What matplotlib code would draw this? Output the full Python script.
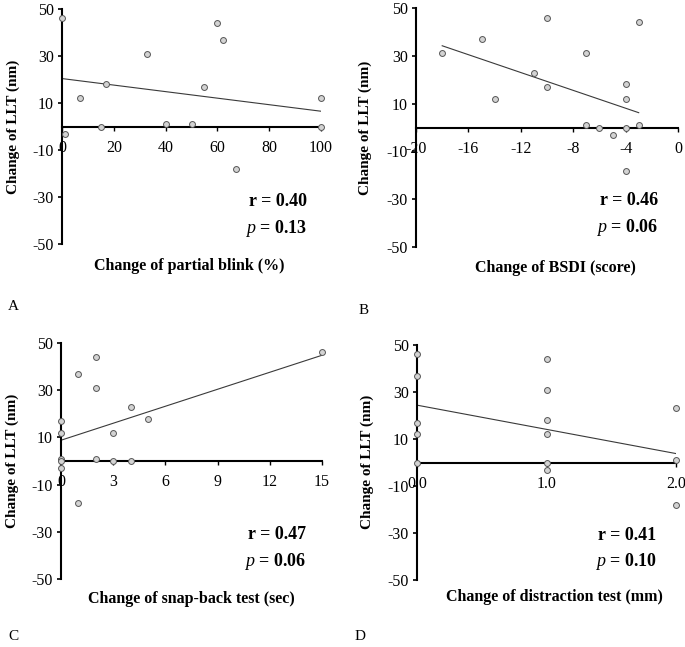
import matplotlib
matplotlib.use('Agg')
import matplotlib.pyplot as plt

plt.rcParams['font.family'] = ['Liberation Serif', 'DejaVu Serif']
plt.rcParams['axes.unicode_minus'] = False
plt.rcParams['mathtext.fontset'] = 'custom'
plt.rcParams['mathtext.it'] = 'Liberation Serif:italic'
plt.rcParams['mathtext.rm'] = 'Liberation Serif:bold'

# values
a_x = [0, 1, 7, 15, 17, 33, 40, 50, 55, 60, 62, 67, 100, 100]
a_y = [46, -3, 12, 0, 18, 31, 1, 1, 17, 44, 37, -18, 12, 0]
a_fit_x = [0, 100]
a_fit_y = [20.4, 6.5]

b_x = [-18, -15, -14, -11, -10, -10, -7, -7, -6, -5, -4, -4, -4, -4, -3, -3]
b_y = [31, 37, 12, 23, 46, 17, 31, 1, 0, -3, 18, 12, 0, -18, 44, 1]
b_fit_x = [-18, -3]
b_fit_y = [34.2, 6.2]

c_x = [0, 0, 0, 0, 0, 1, 1, 2, 2, 2, 3, 3, 4, 4, 5, 15]
c_y = [17, 12, 1, 0, -3, 37, -18, 44, 31, 1, 12, 0, 23, 0, 18, 46]
c_fit_x = [0, 15]
c_fit_y = [8.8, 44.8]

d_x = [0, 0, 0, 0, 0, 1, 1, 1, 1, 1, 1, 2, 2, 2]
d_y = [46, 37, 17, 12, 0, 44, 31, 18, 12, 0, -3, 23, 1, -18]
d_fit_x = [0, 2]
d_fit_y = [24.4, 3.8]

y_ticks = [-50, -30, -10, 10, 30, 50]

panels = [
    # data, fit, xlim, xticks, xlabel, r, p, letter
    (a_x, a_y, a_fit_x, a_fit_y, (0, 100), [0, 20, 40, 60, 80, 100],
     'Change of partial blink (%)', '0.40', '0.13', 'A'),
    (b_x, b_y, b_fit_x, b_fit_y, (-20, 0), [-20, -16, -12, -8, -4, 0],
     'Change of BSDI (score)', '0.46', '0.06', 'B'),
    (c_x, c_y, c_fit_x, c_fit_y, (0, 15), [0, 3, 6, 9, 12, 15],
     'Change of snap-back test (sec)', '0.47', '0.06', 'C'),
    (d_x, d_y, d_fit_x, d_fit_y, (0, 2), [0, 1, 2],
     'Change of distraction test (mm)', '0.41', '0.10', 'D'),
]

# axes boxes in pixels: left, top, right, bottom
boxes = [(62, 9, 321, 244), (416, 8, 678, 247), (61, 343, 322, 579), (417, 345, 676, 580)]
xlab_pos = [(189, 266), (555, 268), (191, 599), (554, 597)]
ylab_pos = [(13, 127), (365, 128), (12, 461), (367, 462)]
letter_pos = [(8, 307), (359, 311), (8, 637), (355, 637)]
rp_pos = [(0.946, 0.18, 0.065), (0.924, 0.196, 0.083), (0.939, 0.188, 0.073), (0.925, 0.191, 0.077)]

W, H = 685, 647
fig = plt.figure(figsize=(W / 100, H / 100), dpi=100)

for i, (xs, ys, fx, fy, xlim, xticks, xlabel, r, p, letter) in enumerate(panels):
    l, t, rr, b = boxes[i]
    ax = fig.add_axes([l / W, 1 - b / H, (rr - l) / W, (b - t) / H])
    ax.plot(fx, fy, color='#3a3a3a', lw=0.8, zorder=2)
    ax.scatter(xs, ys, s=18, facecolor='#d3d3d3', edgecolor='#555555', linewidth=0.7,
               zorder=3, clip_on=False)
    ax.set_xlim(*xlim)
    ax.set_ylim(-50, 50)
    ax.set_yticks(y_ticks)
    ax.set_xticks(xticks)
    if letter == 'D':
        ax.set_xticklabels(['%.1f' % v for v in xticks])
    ax.spines['top'].set_visible(False)
    ax.spines['right'].set_visible(False)
    ax.spines['bottom'].set_position(('data', 0))
    ax.spines['left'].set_linewidth(1.5)
    ax.spines['bottom'].set_linewidth(1.5)
    ax.tick_params(axis='y', direction='out', length=3, width=1.2, pad=3, labelsize=11.5)
    ax.tick_params(axis='x', direction='out', length=3, width=1.0, pad=6.5, labelsize=11.5)
    rx, ry, py = rp_pos[i]
    ax.text(rx, ry, 'r = ' + r, transform=ax.transAxes, ha='right', va='center',
            fontsize=13, fontweight='bold')
    ax.text(rx, py, r'$\mathit{p}$' + ' = ' + p, transform=ax.transAxes, ha='right',
            va='center', fontsize=13, fontweight='bold')
    fig.text(xlab_pos[i][0] / W, 1 - xlab_pos[i][1] / H, xlabel, ha='center', va='center',
             fontsize=11.5, fontweight='bold')
    fig.text(ylab_pos[i][0] / W, 1 - ylab_pos[i][1] / H, 'Change of LLT (nm)', ha='center',
             va='center', rotation=90, fontsize=11, fontweight='bold')
    fig.text(letter_pos[i][0] / W, 1 - letter_pos[i][1] / H, letter, ha='left', va='center',
             fontsize=11)

fig.savefig('out.png', dpi=100)
